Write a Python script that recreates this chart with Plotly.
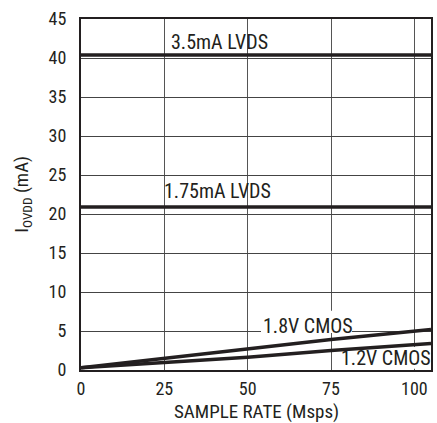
import plotly.graph_objects as go

# Data
sample_rate = [0, 25, 50, 75, 105]
lvds_3p5 = [40.4, 40.4, 40.4, 40.4, 40.4]
lvds_1p75 = [20.9, 20.9, 20.9, 20.9, 20.9]
cmos_1p8 = [0.3, 1.5, 2.65, 3.9, 5.2]
cmos_1p2 = [0.3, 1.0, 1.65, 2.5, 3.4]

x_ticks = [0, 25, 50, 75, 100]
y_ticks = [0, 5, 10, 15, 20, 25, 30, 35, 40, 45]

FONT = "Roboto Condensed, Liberation Sans Narrow, Roboto, sans-serif"
LINE = "#231f20"

fig = go.Figure()
for name, ys in [("3.5mA LVDS", lvds_3p5), ("1.75mA LVDS", lvds_1p75),
                 ("1.8V CMOS", cmos_1p8), ("1.2V CMOS", cmos_1p2)]:
    fig.add_trace(go.Scatter(x=sample_rate, y=ys, mode="lines", name=name,
                             line=dict(color=LINE, width=3.5), showlegend=False))

# white patches that hide gridlines behind the CMOS labels (drawn under traces)
fig.add_shape(type="rect", x0=54, x1=81.3, y0=4.75, y1=7.6, layer="between",
              line=dict(width=0), fillcolor="white")
fig.add_shape(type="rect", x0=78, x1=105, y0=0.15, y1=2.95, layer="between",
              line=dict(width=0), fillcolor="white")

ann_font = dict(size=20, color="#231f20", family=FONT)
fig.add_annotation(x=41.5, y=42.1, text="3.5mA LVDS", showarrow=False,
                   yanchor="middle", font=ann_font)
fig.add_annotation(x=41, y=22.9, text="1.75mA LVDS", showarrow=False,
                   yanchor="middle", font=ann_font)
fig.add_annotation(x=68.2, y=5.7, text="1.8V CMOS", showarrow=False,
                   yanchor="middle", font=ann_font)
fig.add_annotation(x=91.5, y=1.5, text="1.2V CMOS", showarrow=False,
                   yanchor="middle", font=ann_font)

# axis titles
fig.add_annotation(xref="paper", yref="paper", x=0.5, y=-0.117,
                   text="SAMPLE RATE (Msps)", showarrow=False,
                   xanchor="center", yanchor="middle",
                   font=dict(size=19, color="#231f20", family=FONT))
fig.add_annotation(xref="paper", yref="paper", x=-0.168, y=0.50,
                   text="I<sub>OVDD</sub> (mA)", showarrow=False, textangle=-90,
                   xanchor="center", yanchor="middle",
                   font=dict(size=19, color="#231f20", family=FONT))

fig.update_layout(
    width=437, height=423,
    margin=dict(l=81, r=6, t=19, b=53),
    paper_bgcolor="white", plot_bgcolor="white",
    font=dict(family=FONT, size=18, color="#231f20"),
    xaxis=dict(range=[0, 105], tickvals=x_ticks, showgrid=True,
               gridcolor="#555555", gridwidth=1, zeroline=False,
               showline=True, linecolor="#231f20", linewidth=2, mirror=True,
               ticks="", ticklabelstandoff=1, automargin=False),
    yaxis=dict(range=[0, 45], tickvals=y_ticks, showgrid=True,
               gridcolor="#444444", gridwidth=1, zeroline=False,
               showline=True, linecolor="#231f20", linewidth=2, mirror=True,
               ticks="", ticklabelstandoff=9, automargin=False),
)

fig.write_html("out.html", config={"displayModeBar": False},
               post_script="document.body.style.margin='0';document.body.style.overflow='hidden';")
